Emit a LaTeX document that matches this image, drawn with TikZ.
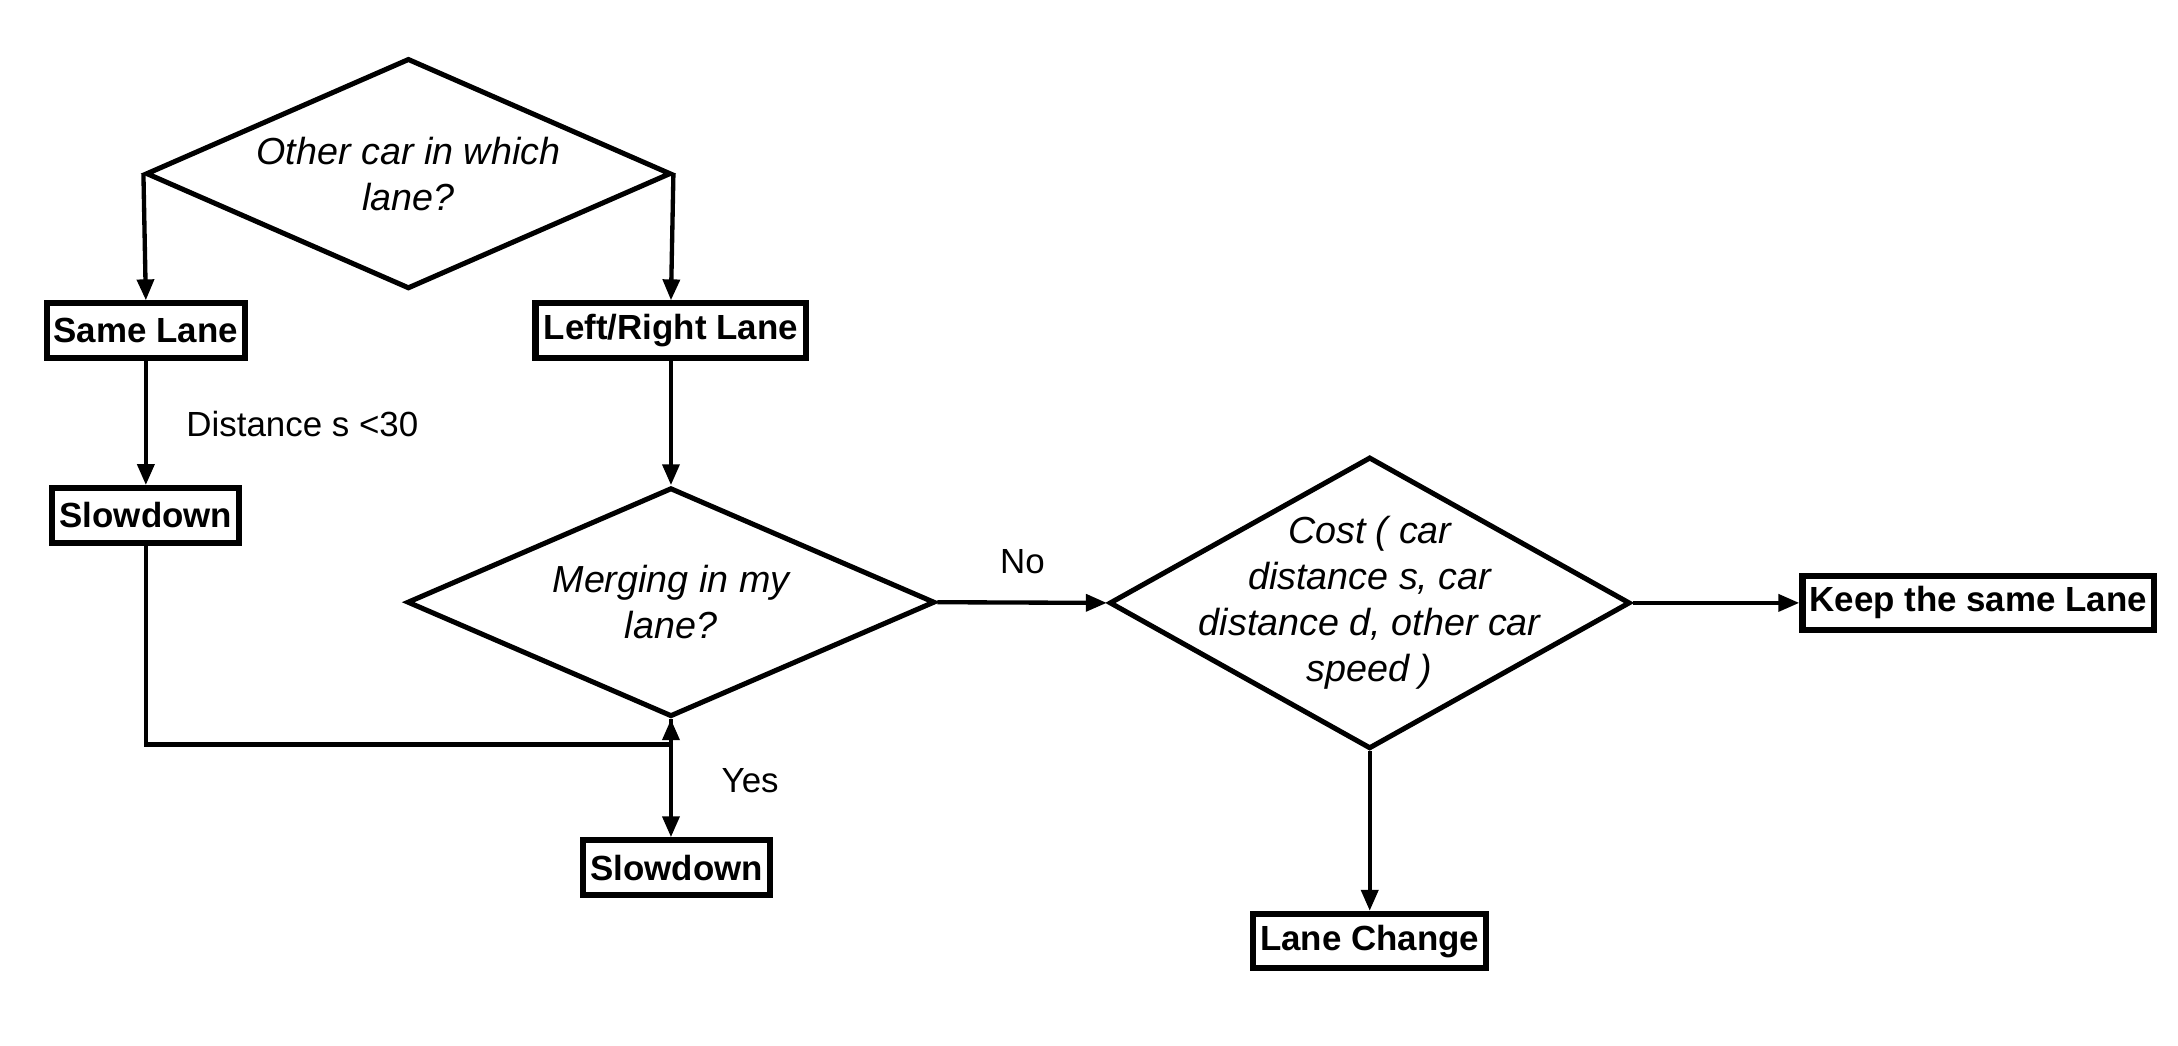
\documentclass[tikz,border=0pt]{standalone}
\usepackage{fontspec}
\setmainfont{Liberation Sans}
\usetikzlibrary{shapes.geometric,arrows.meta}
\begin{document}
\begin{tikzpicture}[x=0.995pt,y=-0.995pt,
  dia/.style={draw,shape=diamond,line width=3.6pt,inner sep=0pt,line join=miter},
  dtext/.style={align=center,font=\fontsize{27}{33}\selectfont\itshape,inner sep=0pt},
  box/.style={draw,rectangle,line width=4.4pt,minimum height=39pt,inner xsep=5pt,
    font=\fontsize{25}{30}\selectfont\bfseries},
  lbl/.style={font=\fontsize{25}{30}\selectfont,inner sep=0pt},
  arr/.style={line width=3.1pt,-{Triangle[length=15pt,width=12pt]}}]
\useasboundingbox (0pt,0pt) rectangle (1560pt,-749.2pt);
% decisions
\node[dia,minimum width=376pt,minimum height=165pt,
  label={[dtext]center:Other car in which\\lane?}] (d1) at (294,125) {};
\node[dia,minimum width=378pt,minimum height=164pt,
  label={[dtext]center:Merging in my\\lane?}] (merge) at (483,433.5) {};
\node[dia,minimum width=373pt,minimum height=209pt,
  label={[dtext]center:Cost ( car\\distance s, car\\distance d, other car\\speed )}] (cost) at (986,434) {};
% boxes
\node[box,minimum width=142pt] (same) at (105,238) {Same Lane};
\node[box,minimum width=194pt] (lr) at (483,238) {Left/Right Lane};
\node[box,minimum width=134pt] (slow1) at (105,371) {Slowdown};
\node[box,minimum width=134pt] (slow2) at (487,624.5) {Slowdown};
\node[box,minimum width=251pt] (keep) at (1424,434) {Keep the same Lane};
\node[box,minimum width=167pt] (lc) at (986,677.5) {Lane Change};
% labels
\node[lbl,anchor=west] (ldist) at (134,305) {Distance s <30};
\node[lbl] (lno) at (736,404) {No};
\node[lbl] (lyes) at (540,562) {Yes};
\coordinate (j) at (483,536);
% connectors
\draw[arr] (d1.west) -- (same.north);
\draw[arr] (d1.east) -- (lr.north);
\draw[arr] (same.south) -- (slow1.north);
\draw[arr] (lr.south) -- (merge.north);
\draw[arr] (slow1.south) |- (j) -- (merge.south);
\draw[arr] (merge.south) -- (merge.south |- slow2.north);
\draw[arr] (merge.east) -- (cost.west);
\draw[arr] (cost.east) -- (keep.west);
\draw[arr] (cost.south) -- (lc.north);
\end{tikzpicture}
\end{document}
